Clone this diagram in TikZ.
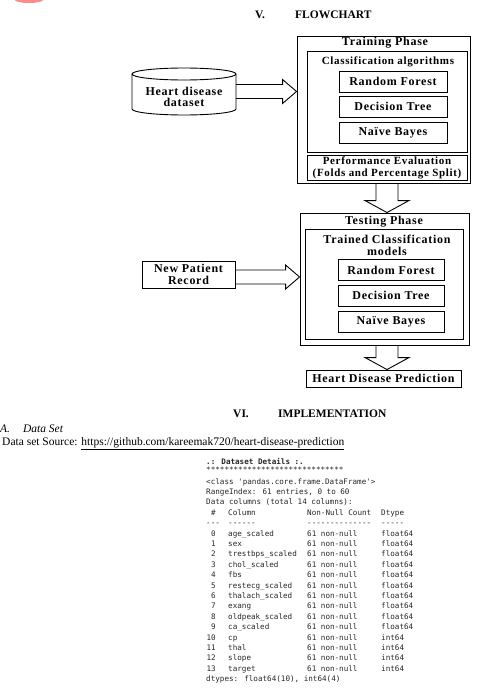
\documentclass[tikz,border=0pt]{standalone}
\usepackage{fontspec}
\setmainfont{Liberation Serif}
\newfontfamily\flowfont[LetterSpace=6]{Liberation Serif}
\newfontfamily\codefont{DejaVu Sans Mono}
\usetikzlibrary{calc}

\tikzset{
  box/.style={draw, line width=0.9pt, inner sep=0pt},
  ftext/.style={font=\flowfont\bfseries\fontsize{12}{11.5}\selectfont, align=center, inner sep=0pt},
  fsmall/.style={font=\flowfont\bfseries\fontsize{11}{12}\selectfont, align=center, inner sep=0pt},
  hollow/.style={line width=0.9pt, line join=miter},
  head/.style={font=\bfseries\fontsize{11.5}{13}\selectfont, anchor=west, inner sep=0pt},
  body/.style={font=\fontsize{11.5}{13}\selectfont, anchor=west, inner sep=0pt,
    text height=7.5pt, text depth=2pt},
  code/.style={font=\codefont\fontsize{7.6}{10}\selectfont, text=black!85, anchor=west,
    inner sep=0pt, text height=5.8pt, text depth=1.6pt},
}

% hollow block arrows between two nodes
\newcommand{\hollowright}[2]{%
  \draw[hollow] let \p1=(#1), \p2=(#2) in
    (\x1,\y1+7pt) -- (\x2-14pt,\y1+7pt) -- (\x2-14pt,\y1+12pt) -- (\x2,\y1)
    -- (\x2-14pt,\y1-12pt) -- (\x2-14pt,\y1-7pt) -- (\x1,\y1-7pt);}
\newcommand{\hollowdown}[2]{%
  \draw[hollow] let \p1=(#1), \p2=(#2) in
    (\x1-11pt,\y1) -- (\x1-11pt,\y2+12pt) -- (\x1-22pt,\y2+12pt) -- (\x1,\y2)
    -- (\x1+22pt,\y2+12pt) -- (\x1+11pt,\y2+12pt) -- (\x1+11pt,\y1);}

\begin{document}
\begin{tikzpicture}[x=1pt, y=-1pt]
\useasboundingbox (0,0) rectangle (493,690);

\fill[red!45] (15,0) arc[start angle=180, end angle=0, x radius=14, y radius=3] -- cycle;

\node[head] (sec5) at (255,15) {V.};
\node[head] (flow) at (295,15) {FLOWCHART};

% training phase
\node[box, minimum width=173pt, minimum height=147pt] (train) at (383.5,109.5) {};
\node[ftext] (trainlbl) at (385,43) {Training Phase};
\node[box, minimum width=160pt, minimum height=101pt] (clsbox) at (387,101.5) {};
\node[fsmall] (clslbl) at (388,62) {Classification algorithms};
\foreach \alg/\yy/\nm in {Random Forest/81.5/rfa, Decision Tree/106.5/dta, Naïve Bayes/132.5/nba}
  \node[box, ftext, minimum width=108pt, minimum height=21pt] (\nm) at (393,\yy) {\alg};
\node[box, fsmall, minimum width=160pt, minimum height=25pt] (perf) at (387,167.5)
  {Performance Evaluation\\(Folds and Percentage Split)};

% dataset cylinder
\draw[hollow] (132,74) -- (132,109) arc[start angle=180, end angle=0, x radius=52, y radius=6] -- (236,74);
\draw[hollow] (184,74) ellipse[x radius=52, y radius=6];
\node[ftext, minimum width=104pt] (db) at (184,97) {Heart disease\\dataset};

% testing phase
\node[box, minimum width=169pt, minimum height=132pt] (test) at (384.5,279) {};
\node[ftext] (testlbl) at (384,222) {Testing Phase};
\node[box, minimum width=158pt, minimum height=110pt] (modbox) at (384,284) {};
\node[ftext] (modlbl) at (387,245.5) {Trained Classification\\models};
\foreach \alg/\yy/\nm in {Random Forest/270/rfb, Decision Tree/295.5/dtb, Naïve Bayes/321.5/nbb}
  \node[box, ftext, minimum width=106pt, minimum height=21pt] (\nm) at (391,\yy) {\alg};

\node[box, ftext, minimum width=93pt, minimum height=27pt] (rec) at (188.5,274.5) {New Patient\\Record};
\node[box, ftext, minimum width=155pt, minimum height=17pt] (pred) at (383.5,378.5) {Heart Disease Prediction};

\hollowright{[yshift=5.5pt]db.east}{train.west}
\hollowright{[yshift=-2.5pt]rec.east}{test.west}
\hollowdown{[xshift=3.5pt]train.south}{test.north}
\hollowdown{[xshift=2.5pt]test.south}{pred.north}

% implementation
\node[head] (sec6) at (233,414) {VI.};
\node[head] (impl) at (278,414) {IMPLEMENTATION};
\node[body] (subA) at (0,430) {\textit{A.}\hspace{13pt}\textit{Data Set}};
\node[body] (src) at (2,443) {Data set Source: \underline{https://github.com/kareemak720/heart-disease-prediction}};

\begin{scope}[code]
\node (details) at (206,462) {\bfseries .: Dataset Details :.};
\node (stars) at (206,470) {******************************};
\node (cls) at (206,482) {<class 'pandas.core.frame.DataFrame'>};
\node (rng) at (206,492.4) {RangeIndex: 61 entries, 0 to 60};
\node (dcols) at (206,502.8) {Data columns (total 14 columns):};
\node (hidx) at (211,513.2) {\#};
\node (hcol) at (228,513.2) {Column};
\node (hcnt) at (307,513.2) {Non-Null Count};
\node (hdt) at (381,513.2) {Dtype};
\node (didx) at (206,523.6) {---};
\node (dcol) at (228,523.6) {------};
\node (dcnt) at (307,523.6) {--------------};
\node (ddt) at (381,523.6) {-----};
\foreach \col/\dt [count=\i from 0] in {age\_scaled/float64, sex/float64, trestbps\_scaled/float64,
    chol\_scaled/float64, fbs/float64, restecg\_scaled/float64, thalach\_scaled/float64,
    exang/float64, oldpeak\_scaled/float64, ca\_scaled/float64, cp/int64, thal/int64,
    slope/int64, target/int64}{
  \node[anchor=east] (idx\i) at (216,534+10.4*\i) {\i};
  \node (col\i) at (228,534+10.4*\i) {\col};
  \node (cnt\i) at (307,534+10.4*\i) {61 non-null};
  \node (typ\i) at (381,534+10.4*\i) {\dt};
}
\node (dtypes) at (206,679.6) {dtypes: float64(10), int64(4)};
\end{scope}
\end{tikzpicture}
\end{document}
